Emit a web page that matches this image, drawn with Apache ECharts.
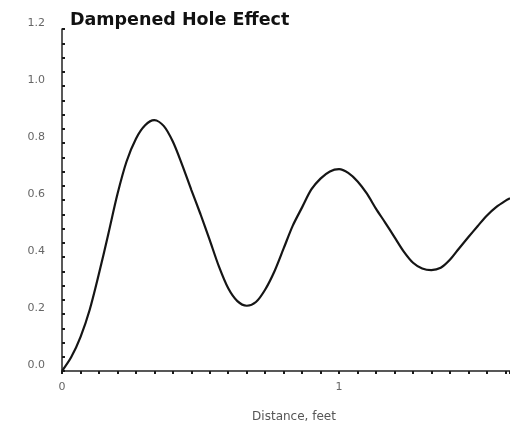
<!DOCTYPE html>
<html>
<head>
<meta charset="utf-8">
<script src="https://cdn.jsdelivr.net/npm/echarts@6/dist/echarts.min.js"></script>
<style>
  html, body { margin: 0; padding: 0; background: #fff; }
  #chart { width: 510px; height: 426px; }
</style>
</head>
<body>
<div id="chart"></div>
<script>
// Distance (feet) and the dampened hole-effect values along the curve
const distance = [0.000, 0.033, 0.067, 0.100, 0.133, 0.167, 0.200, 0.233, 0.267, 0.300,
                  0.333, 0.367, 0.400, 0.433, 0.467, 0.500, 0.533, 0.567, 0.600, 0.633,
                  0.667, 0.700, 0.733, 0.767, 0.800, 0.833, 0.867, 0.900, 0.933, 0.967,
                  1.000, 1.033, 1.067, 1.100, 1.133, 1.167, 1.200, 1.233, 1.267, 1.300,
                  1.333, 1.367, 1.400, 1.433, 1.467, 1.500, 1.533, 1.567, 1.600, 1.617];
const effect = [0.000, 0.048, 0.120, 0.215, 0.340, 0.480, 0.620, 0.735, 0.815, 0.862,
                0.880, 0.860, 0.805, 0.725, 0.635, 0.550, 0.460, 0.365, 0.290, 0.245,
                0.229, 0.242, 0.285, 0.350, 0.430, 0.510, 0.575, 0.637, 0.675, 0.700,
                0.708, 0.695, 0.665, 0.623, 0.570, 0.520, 0.470, 0.420, 0.380, 0.360,
                0.354, 0.362, 0.390, 0.430, 0.470, 0.508, 0.545, 0.575, 0.597, 0.606];

const titleText = 'Dampened Hole Effect';
const xAxisTitle = 'Distance, feet';
const yTickStep = 0.2;
const xTickStep = 1;

const points = distance.map((d, i) => [d, effect[i]]);

const chart = echarts.init(document.getElementById('chart'), null, { renderer: 'canvas' });
const labelFont = 'DejaVu Sans';
const tickStyle = { color: '#1a1a1a', width: 2 };

chart.setOption({
  animation: false,
  backgroundColor: '#ffffff',
  title: {
    text: titleText,
    left: 65,
    top: 6,
    textStyle: { fontFamily: labelFont, fontWeight: 'bold', fontSize: 17.5, color: '#111' }
  },
  // fixed plot rectangle; labels and axis name may sit near the canvas edge
  grid: { left: 62, right: 0, top: 29, bottom: 55, containLabel: false, outerBoundsMode: 'none' },
  xAxis: {
    type: 'value',
    min: 0,
    max: 1.617,
    interval: xTickStep,
    name: xAxisTitle,
    nameLocation: 'middle',
    nameGap: 40,
    nameTextStyle: { fontFamily: labelFont, fontSize: 12, color: '#555', padding: [0, 0, 0, 16] },
    axisLine: { show: true, lineStyle: { color: '#222', width: 1.5 } },
    axisTick: { show: true, inside: false, length: 3, lineStyle: tickStyle },
    minorTick: { show: true, splitNumber: 15, length: 3, lineStyle: tickStyle },
    splitLine: { show: false },
    minorSplitLine: { show: false },
    axisLabel: {
      fontFamily: labelFont, fontSize: 11, color: '#666', margin: 11,
      showMaxLabel: false,
      formatter: v => (Math.abs(v - Math.round(v)) < 1e-9 ? String(Math.round(v)) : '')
    }
  },
  yAxis: {
    type: 'value',
    min: 0,
    max: 1.2,
    interval: yTickStep,
    axisLine: { show: true, lineStyle: { color: '#222', width: 1.5 } },
    axisTick: { show: true, inside: true, length: 3, lineStyle: tickStyle },
    minorTick: { show: true, splitNumber: 4, length: 3, lineStyle: tickStyle },
    splitLine: { show: false },
    minorSplitLine: { show: false },
    axisLabel: {
      fontFamily: labelFont, fontSize: 11, lineHeight: 12, color: '#666', margin: 17,
      verticalAlign: 'bottom',
      formatter: v => v.toFixed(1)
    }
  },
  series: [{
    type: 'line',
    data: points,
    smooth: 0.3,
    showSymbol: false,
    clip: true,
    lineStyle: { color: '#151515', width: 2.2 }
  }]
});
</script>
</body>
</html>
